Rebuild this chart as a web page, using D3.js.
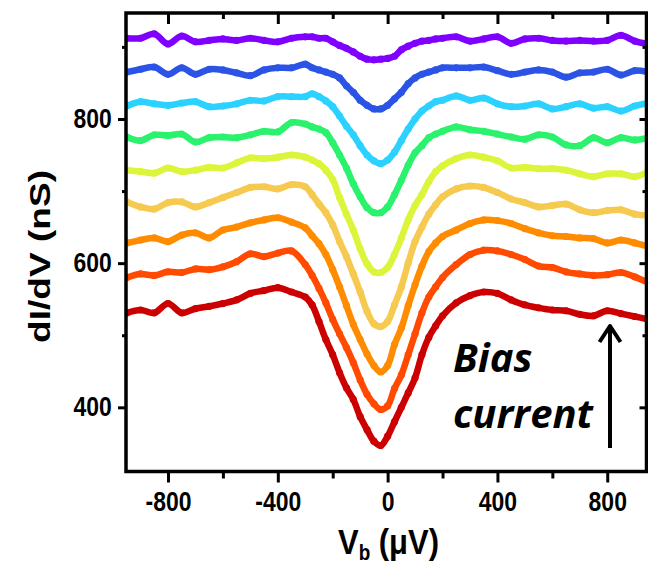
<!DOCTYPE html>
<html>
<head>
<meta charset="utf-8">
<script src="https://cdn.jsdelivr.net/npm/d3@7"></script>
<style>
  body { margin: 0; background: #fff; }
  svg { display: block; }
  .tick text { font-family: "Liberation Sans", Arial, sans-serif; font-weight: bold; font-size: 27px; fill: #000; }
</style>
</head>
<body>
<svg id="chart" width="648" height="565"></svg>
<script>
//* Data (bias voltage in uV, dI/dV in nS)
const biasV = [-950, -900, -850, -800, -750, -700, -650, -600, -550, -500, -450, -400, -350, -300,
  -275, -250, -225, -200, -175, -150, -125, -100, -75, -50, -25, 0, 25, 50, 75, 100, 125, 150, 175, 200,
  250, 300, 350, 400, 450, 500, 550, 600, 650, 700, 750, 800, 850, 900, 950];

const purple = [912, 912, 918, 904, 915, 907, 909, 911, 909, 912, 909, 907, 912, 914,
  914, 912, 912, 907, 902, 898, 893, 887, 883, 882, 883, 884, 887, 896, 901, 905, 908, 909, 911, 912,
  914, 908, 911, 914, 905, 911, 912, 909, 908, 909, 908, 909, 916, 908, 904];
const blue = [865, 869, 872, 862, 871, 862, 869, 868, 864, 860, 868, 871, 871, 876,
  871, 868, 865, 862, 857, 846, 837, 826, 819, 814, 814, 819, 828, 837, 849, 857, 862, 865, 868, 871,
  871, 871, 872, 867, 862, 865, 868, 865, 858, 864, 865, 869, 861, 867, 865];
const cyan = [818, 824, 821, 819, 822, 824, 817, 818, 821, 826, 825, 831, 831, 831,
  835, 831, 825, 817, 804, 790, 778, 763, 750, 742, 738, 743, 754, 770, 786, 800, 811, 818, 824, 826,
  832, 826, 829, 821, 817, 818, 821, 814, 817, 821, 815, 817, 811, 818, 822];
const green = [775, 770, 778, 777, 779, 768, 774, 775, 774, 778, 783, 782, 795, 793,
  789, 786, 781, 767, 750, 732, 710, 692, 677, 670, 670, 678, 695, 715, 736, 753, 763, 774, 779, 783,
  789, 785, 783, 779, 775, 772, 778, 775, 764, 763, 774, 767, 774, 771, 774];
const yellow = [729, 727, 725, 732, 727, 729, 733, 732, 739, 746, 745, 747, 750, 747,
  743, 738, 729, 716, 691, 668, 646, 620, 599, 588, 587, 594, 612, 635, 660, 680, 695, 713, 727, 735,
  745, 750, 747, 742, 732, 733, 731, 731, 729, 724, 720, 724, 724, 720, 727];
const lightOrange = [685, 678, 675, 684, 685, 678, 684, 691, 698, 705, 706, 703, 709, 706,
  695, 682, 670, 653, 630, 609, 585, 560, 533, 516, 512, 519, 542, 567, 600, 630, 650, 668, 681, 692,
  703, 707, 705, 698, 689, 684, 678, 680, 682, 674, 670, 673, 674, 668, 666];
const orange = [628, 632, 635, 630, 639, 642, 635, 646, 650, 656, 660, 663, 657, 649,
  638, 627, 612, 591, 567, 541, 515, 494, 474, 458, 449, 458, 487, 510, 541, 570, 596, 616, 628, 637,
  646, 655, 660, 659, 655, 648, 642, 638, 637, 635, 634, 628, 632, 628, 623];
const redOrange = [580, 585, 583, 588, 587, 592, 591, 595, 602, 613, 609, 614, 617, 598,
  583, 565, 545, 522, 502, 483, 462, 438, 418, 405, 397, 402, 426, 445, 473, 502, 531, 553, 567, 580,
  598, 612, 618, 617, 612, 605, 596, 594, 588, 585, 583, 584, 587, 581, 573];
const darkRed = [531, 535, 531, 544, 531, 537, 540, 544, 549, 558, 562, 566, 560, 553,
  542, 519, 494, 473, 448, 427, 411, 387, 369, 353, 347, 360, 380, 400, 420, 441, 473, 497, 513, 527,
  545, 555, 560, 558, 549, 542, 538, 535, 534, 529, 527, 534, 530, 526, 522];

const seriesList = [purple, blue, cyan, green, yellow, lightOrange, orange, redOrange, darkRed];
const seriesColors = ["#8000ff", "#2b54e6", "#2bd2ff", "#2af26c", "#dcf43a", "#f6c94f", "#ff8c00", "#ff4a00", "#cc0000"];

const xMajor = [-800, -400, 0, 400, 800];
const xMinor = [-600, -200, 200, 600];
const yMajor = [400, 600, 800];
const yMinor = [500, 700, 900];

//* Chart area
const box = { left: 126, right: 646.5, top: 13, bottom: 471.5 };

const svg = d3.select("#chart");

const x = d3.scaleLinear().domain([-953, 943]).range([box.left, box.right]);
const y = d3.scaleLinear().domain([311, 947]).range([box.bottom, box.top]);

svg.append("clipPath")
  .attr("id", "plotClip")
  .append("rect")
  .attr("x", box.left)
  .attr("y", box.top)
  .attr("width", box.right - box.left)
  .attr("height", box.bottom - box.top);

//* Curves
const line = d3.line()
  .x((d, i) => x(biasV[i]))
  .y(d => y(d))
  .curve(d3.curveCatmullRom.alpha(0.5));

const curves = svg.append("g").attr("clip-path", "url(#plotClip)");

seriesList.forEach((vals, k) => {
  curves.append("path")
    .datum(vals)
    .attr("d", line)
    .attr("fill", "none")
    .attr("stroke", seriesColors[k])
    .attr("stroke-width", 6.5)
    .attr("stroke-linejoin", "round")
    .attr("stroke-linecap", "round");

  curves.selectAll(null)
    .data(vals)
    .enter()
    .append("circle")
    .attr("cx", (d, i) => x(biasV[i]))
    .attr("cy", d => y(d))
    .attr("r", 3.6)
    .attr("fill", seriesColors[k]);
});

//* Axes
function styleAxis(g) {
  g.select(".domain").remove();
  g.selectAll(".tick line").attr("stroke", "#000").attr("stroke-width", 3);
}

const fmt = d => String(d);

svg.append("g")
  .attr("transform", `translate(0, ${box.bottom})`)
  .call(d3.axisBottom(x).tickValues(xMajor).tickSize(11).tickPadding(9).tickFormat(fmt))
  .call(styleAxis)
  .selectAll("text")
  .attr("transform", "scale(0.85,1)");

svg.append("g")
  .attr("transform", `translate(0, ${box.bottom})`)
  .call(d3.axisBottom(x).tickValues(xMinor).tickSize(7).tickFormat(""))
  .call(styleAxis);

svg.append("g")
  .attr("transform", `translate(0, ${box.top})`)
  .call(d3.axisTop(x).tickValues(xMajor).tickSize(-11).tickFormat(""))
  .call(styleAxis);

svg.append("g")
  .attr("transform", `translate(0, ${box.top})`)
  .call(d3.axisTop(x).tickValues(xMinor).tickSize(-6).tickFormat(""))
  .call(styleAxis);

svg.append("g")
  .attr("transform", `translate(${box.left}, 0)`)
  .call(d3.axisLeft(y).tickValues(yMajor).tickSize(8).tickFormat(fmt))
  .call(styleAxis)
  .selectAll("text")
  .attr("x", -16.8)
  .attr("transform", "scale(0.85,1)");

svg.append("g")
  .attr("transform", `translate(${box.left}, 0)`)
  .call(d3.axisLeft(y).tickValues(yMinor).tickSize(4).tickFormat(""))
  .call(styleAxis);

svg.append("g")
  .attr("transform", `translate(${box.right}, 0)`)
  .call(d3.axisRight(y).tickValues(yMajor).tickSize(-7).tickFormat(""))
  .call(styleAxis);

svg.append("g")
  .attr("transform", `translate(${box.right}, 0)`)
  .call(d3.axisRight(y).tickValues(yMinor).tickSize(-4).tickFormat(""))
  .call(styleAxis);

// frame
svg.append("rect")
  .attr("x", box.left)
  .attr("y", box.top)
  .attr("width", box.right - box.left)
  .attr("height", box.bottom - box.top)
  .attr("fill", "none")
  .attr("stroke", "#000")
  .attr("stroke-width", 3.5);

//* Titles
svg.append("text")
  .attr("transform", "translate(50, 256.5) rotate(-90)")
  .attr("text-anchor", "middle")
  .attr("font-family", "Liberation Sans, Arial, sans-serif")
  .attr("font-weight", "bold")
  .attr("font-size", 30)
  .attr("textLength", 173)
  .attr("lengthAdjust", "spacingAndGlyphs")
  .text("dI/dV (nS)");

const xTitle = svg.append("text")
  .attr("transform", "translate(388.5, 554) scale(0.86,1)")
  .attr("text-anchor", "middle")
  .attr("font-family", "Liberation Sans, Arial, sans-serif")
  .attr("font-weight", "bold")
  .attr("font-size", 36);
xTitle.append("tspan").text("V");
xTitle.append("tspan").attr("font-size", 22).attr("dy", 6).text("b");
xTitle.append("tspan").attr("dy", -6).text(" (\u03bcV)");

//* Annotation
const note = svg.append("g")
  .attr("font-family", "Open Sans, Lato, sans-serif")
  .attr("font-weight", "bold")
  .attr("font-style", "italic")
  .attr("font-size", 40);
note.append("text").attr("x", 453).attr("y", 372).text("Bias");
note.append("text").attr("x", 453).attr("y", 428).text("current");

svg.append("path")
  .attr("d", "M610,448 V328 M599.5,342 L610,326 L620.5,342")
  .attr("fill", "none")
  .attr("stroke", "#000")
  .attr("stroke-width", 4)
  .attr("stroke-linejoin", "round");
</script>
</body>
</html>
